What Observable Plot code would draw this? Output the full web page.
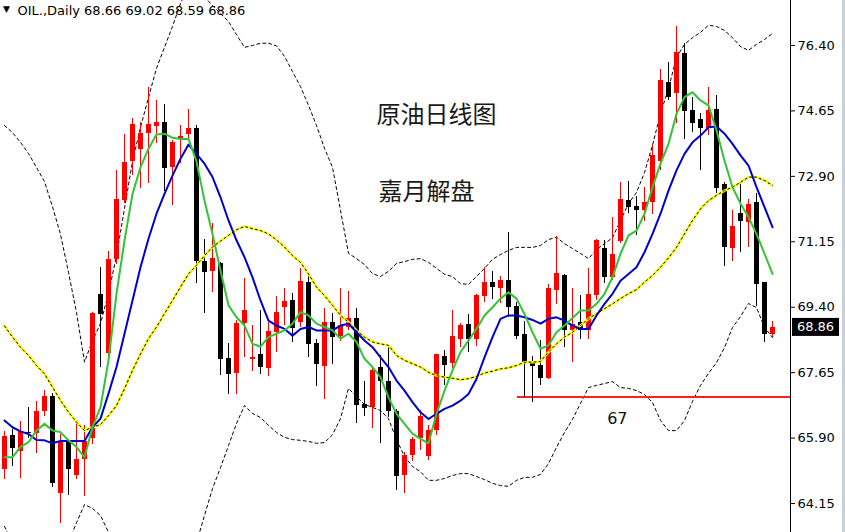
<!DOCTYPE html>
<html><head><meta charset="utf-8">
<script src="https://cdn.jsdelivr.net/npm/d3@7"></script>
<script src="https://cdn.jsdelivr.net/npm/@observablehq/plot@0.6"></script>
<style>
html,body{margin:0;padding:0;background:#fff;}
#chart{position:relative;width:845px;height:532px;overflow:hidden;}
</style></head><body><div id="chart"></div>
<script>
// ---- data ----
const opens = [65.07,65.97,65.55,66.05,66.01,66.62,67.01,64.43,65.81,64.91,
65.34,65.90,69.75,68.17,70.68,72.25,73.31,73.61,74.05,74.22,
74.35,73.15,73.88,74.02,74.18,70.61,70.36,70.56,68.02,67.62,
68.97,68.01,68.13,67.77,68.73,69.40,69.58,69.00,70.05,68.42,
67.82,68.98,68.62,68.87,69.09,66.80,66.73,67.78,67.42,66.62,
64.90,65.44,65.90,65.42,66.09,68.09,67.89,68.55,68.94,68.55,
69.69,70.05,69.89,70.12,69.42,68.67,67.91,67.84,67.50,69.85,
70.25,68.78,68.98,68.78,69.71,70.96,70.20,71.17,72.25,72.09,
72.00,72.19,73.31,75.40,75.11,76.19,74.66,74.42,74.17,74.69,
72.67,70.96,71.91,71.67,72.19,70.05,68.66];
const highs = [66.08,66.12,66.34,66.73,66.89,67.17,67.09,66.00,65.84,66.28,
66.24,69.25,70.45,70.90,73.06,74.02,74.44,74.35,75.27,74.93,
74.82,73.86,74.26,74.68,74.26,71.20,71.63,70.60,68.44,69.05,
70.16,68.91,69.31,68.99,69.69,69.89,69.76,70.43,70.22,68.53,
69.36,69.22,69.89,69.83,69.36,67.41,67.81,68.10,68.33,66.66,
65.52,65.92,66.64,66.24,68.14,68.24,69.31,68.96,69.20,69.74,
70.47,70.36,70.22,71.41,69.53,69.03,68.08,68.51,70.00,71.29,
70.28,69.91,69.71,70.43,71.21,71.19,71.79,72.74,72.76,72.37,
72.59,73.72,75.76,75.95,76.91,76.44,75.02,74.57,75.27,75.06,
72.74,72.00,72.74,72.28,72.45,70.05,69.02];
const lows = [64.80,65.14,64.83,65.88,65.50,66.48,64.59,63.61,64.37,64.79,
64.35,65.72,67.78,68.00,70.54,72.18,72.92,72.57,72.72,73.77,
72.50,72.12,73.24,73.88,70.03,69.23,69.80,67.57,67.06,67.06,
68.06,67.69,67.59,67.56,68.20,68.91,68.45,68.87,68.05,67.29,
66.92,67.86,68.47,68.78,66.30,66.48,66.15,65.75,66.46,64.50,
64.43,65.28,65.57,65.30,65.97,67.31,67.75,68.33,68.20,68.36,
69.53,69.61,69.51,69.13,68.55,66.98,66.84,67.31,67.46,69.47,
68.33,67.93,68.53,68.53,69.58,70.03,70.12,71.11,71.90,71.32,
71.70,71.88,73.06,74.93,74.31,73.88,74.08,73.06,73.99,72.43,
70.50,70.63,70.86,71.00,69.43,68.46,68.59];
const closes = [65.94,65.63,66.07,66.01,66.62,67.01,64.69,65.81,65.07,65.33,
65.82,69.23,69.20,70.68,72.28,73.28,74.29,74.04,74.29,74.35,
73.12,73.81,73.97,74.17,70.61,70.34,70.70,67.99,67.59,68.97,
69.30,68.06,67.80,68.75,69.26,69.55,68.82,70.09,68.40,67.86,
68.98,68.60,68.90,69.09,66.77,66.70,67.71,67.41,66.62,64.88,
65.44,65.86,66.49,66.09,68.14,67.84,68.62,68.91,68.53,69.71,
70.05,69.92,70.12,69.39,68.63,67.93,67.81,67.50,69.91,70.31,
68.78,68.93,68.78,69.74,71.19,70.19,70.81,72.28,72.08,72.00,
72.21,73.46,75.46,75.02,76.22,74.64,74.32,74.17,74.66,72.57,
70.99,71.56,71.70,72.15,70.01,68.66,68.86];
// fast MA (green)
const maGreen = [65.39,65.39,65.66,65.79,66.10,66.28,66.10,66.06,65.84,65.66,
65.39,66.19,66.73,67.98,69.76,71.18,72.43,73.14,73.64,74.02,
74.04,73.93,73.90,73.90,73.30,72.25,71.36,70.38,69.45,69.13,
68.91,68.42,68.35,68.60,68.69,68.78,68.96,69.27,69.18,68.96,
68.87,68.78,68.56,68.69,68.47,68.02,67.80,67.53,66.99,66.55,
66.28,66.02,65.88,65.76,66.55,67.17,67.71,68.20,68.51,68.82,
69.18,69.40,69.63,69.80,69.63,69.22,68.73,68.29,68.38,68.73,
68.91,69.11,69.31,69.31,69.49,69.76,70.20,70.83,71.32,71.45,
71.90,72.61,73.24,73.77,74.57,75.02,75.15,74.93,74.80,74.13,
73.32,72.61,72.17,71.81,71.36,70.83,70.29];
// medium MA (blue)
const maBlue = [66.37,66.19,66.08,66.01,65.85,65.84,65.76,65.82,65.82,65.82,
65.82,66.19,66.42,67.09,67.80,68.69,69.58,70.47,71.23,71.90,
72.43,72.92,73.37,73.75,73.50,73.24,72.88,72.34,71.72,71.19,
70.74,70.20,69.58,69.04,68.91,68.82,68.64,68.82,68.87,68.78,
68.78,68.78,68.91,68.96,68.73,68.51,68.33,68.06,67.80,67.44,
67.17,66.86,66.59,66.41,66.55,66.68,66.77,66.90,67.08,67.48,
68.06,68.60,69.09,69.18,69.18,69.13,69.06,68.96,69.09,69.13,
69.04,68.91,68.82,68.82,69.18,69.49,69.76,70.11,70.29,70.47,
70.87,71.36,71.90,72.52,73.06,73.50,73.81,73.99,74.21,74.23,
74.04,73.77,73.46,73.19,72.61,72.08,71.54];
// slow MA / Bollinger middle (yellow)
const maYellow = [68.90,68.60,68.33,68.11,67.84,67.62,67.26,66.91,66.59,66.33,
66.10,66.19,66.26,66.50,66.77,67.22,67.71,68.15,68.56,68.87,
69.23,69.58,69.94,70.29,70.52,70.78,71.01,71.17,71.32,71.47,
71.56,71.50,71.45,71.36,71.20,71.01,70.78,70.60,70.29,69.94,
69.71,69.45,69.18,69.00,68.78,68.60,68.47,68.42,68.38,68.11,
67.98,67.89,67.80,67.66,67.57,67.53,67.50,67.46,67.49,67.55,
67.64,67.69,67.75,67.78,67.84,67.93,67.93,67.95,68.20,68.42,
68.60,68.73,68.91,69.09,69.23,69.36,69.49,69.63,69.76,69.87,
70.07,70.25,70.47,70.72,71.00,71.36,71.72,72.03,72.25,72.39,
72.52,72.61,72.74,72.88,72.88,72.79,72.66];
const bbUpper = [74.26,74.07,73.81,73.51,73.14,72.76,72.09,71.35,70.33,69.26,
67.93,68.51,68.96,69.77,70.78,72.04,73.30,74.21,75.01,75.79,
76.35,76.91,77.52,78.00,78.10,77.70,77.47,77.26,77.04,76.69,
76.35,76.40,76.46,76.46,76.39,76.11,75.70,75.30,74.80,74.26,
73.65,73.14,71.99,70.84,70.70,70.54,70.30,70.22,70.36,70.57,
70.62,70.68,70.70,70.60,70.44,70.28,70.22,70.03,70.01,70.22,
70.44,70.68,70.81,70.92,71.00,71.00,71.00,71.05,71.21,71.27,
71.10,70.97,70.84,70.70,70.94,71.10,71.26,71.72,72.17,72.47,
73.00,73.73,74.58,75.25,76.08,76.43,76.61,76.75,76.94,76.91,
76.80,76.61,76.37,76.27,76.43,76.56,76.72];
const bbLower = [63.54,63.10,62.80,62.60,62.50,62.50,62.60,62.80,63.10,63.64,
64.12,64.02,63.83,63.38,63.00,62.60,62.20,61.90,61.70,61.60,
61.60,61.80,62.20,62.70,63.10,63.83,64.55,65.11,65.70,66.29,
66.77,66.56,66.45,66.24,66.05,65.92,65.86,65.84,65.81,65.76,
65.78,65.99,66.42,67.23,67.01,66.80,66.72,66.64,66.42,65.86,
65.41,65.14,65.00,64.77,64.77,64.82,64.90,64.95,64.95,64.87,
64.79,64.69,64.63,64.61,64.77,64.85,64.85,64.93,65.22,65.65,
66.05,66.40,66.83,67.25,67.31,67.36,67.41,67.25,67.23,67.17,
67.07,66.85,66.37,66.10,66.10,66.37,66.88,67.31,67.63,67.92,
68.32,68.86,69.15,69.50,69.39,68.86,68.59];
const yTicks = [64.15, 65.90, 67.65, 69.40, 71.15, 72.90, 74.65, 76.40];
const headerText = "OIL.,Daily 68.66 69.02 68.59 68.86";
const titleLines = ["原油日线图", "嘉月解盘"];
const supportLevel = 67;
const supportFromBar = 64.1;
const supportLabelBar = 76.6;
const lastPrice = 68.86;

// ---- build ----
const bars = opens.map((o, i) => ({i, o, h: highs[i], l: lows[i], c: closes[i], col: closes[i] >= o ? "#ff0000" : "#000000"}));
const series = arr => arr.map((v, i) => ({i, v}));
const X_MAX = 98.25;

const chart = Plot.plot({
  width: 845, height: 532,
  marginTop: 0, marginBottom: 0, marginLeft: 0, marginRight: 55,
  style: {fontFamily: "'DejaVu Sans', Verdana, sans-serif", fontSize: "13px", background: "#fff", color: "#000"},
  x: {domain: [-0.5, X_MAX], axis: null},
  y: {domain: [63.375, 77.603]},
  color: {type: "identity"},
  marks: [
    Plot.line(series(bbUpper), {x: "i", y: "v", stroke: "#000", strokeWidth: 1, strokeDasharray: "3,3", clip: true}),
    Plot.line(series(bbLower), {x: "i", y: "v", stroke: "#000", strokeWidth: 1, strokeDasharray: "3,3", clip: true}),
    Plot.ruleY([supportLevel], {x1: supportFromBar, x2: X_MAX, stroke: "#ff2020", strokeWidth: 2}),
    Plot.text([supportLevel], {x: supportLabelBar, y: d => d, dy: 22, text: d => String(d), fontSize: 16, fill: "#111"}),
    Plot.ruleX(bars, {x: "i", y1: "l", y2: "h", stroke: "col", strokeWidth: 1, shapeRendering: "crispEdges"}),
    Plot.rect(bars, {x1: d => d.i - 0.3125, x2: d => d.i + 0.3125, y1: "o", y2: "c", fill: "col", shapeRendering: "crispEdges"}),
    Plot.line(series(maYellow), {x: "i", y: "v", stroke: "#ffff00", strokeWidth: 2.5, clip: true}),
    Plot.line(series(maYellow), {x: "i", y: "v", stroke: "#000", strokeWidth: 1, strokeDasharray: "2,3", clip: true}),
    Plot.line(series(maBlue), {x: "i", y: "v", stroke: "#0000cc", strokeWidth: 2, clip: true}),
    Plot.line(series(maGreen), {x: "i", y: "v", stroke: "#33c333", strokeWidth: 2, clip: true}),
    Plot.ruleX([X_MAX], {stroke: "#000", strokeWidth: 1}),
    Plot.axisY(yTicks, {anchor: "right", tickSize: 4, tickPadding: 3, tickFormat: d => d.toFixed(2), fontSize: 13, label: null}),
    Plot.text(["▼"], {frameAnchor: "top-left", dx: 6, dy: 9, fontSize: 9, lineAnchor: "middle", textAnchor: "middle", fill: "#000"}),
    Plot.text([headerText], {frameAnchor: "top-left", dx: 17, dy: 10, lineAnchor: "middle", textAnchor: "start", fontSize: 13, fill: "#000"}),
    Plot.text([titleLines[0]], {frameAnchor: "top-left", dx: 376, dy: 115, lineAnchor: "middle", textAnchor: "start", fontSize: 24, fontFamily: "'Noto Sans CJK SC', sans-serif", fill: "#1a1a1a"}),
    Plot.text([titleLines[1]], {frameAnchor: "top-left", dx: 378, dy: 192, lineAnchor: "middle", textAnchor: "start", fontSize: 24, fontFamily: "'Noto Sans CJK SC', sans-serif", fill: "#1a1a1a"})
  ]
});

// last price tag on the right axis
const svg = d3.select(chart);
const yPos = chart.scale("y").apply(lastPrice);
const tag = svg.append("g");
tag.append("rect").attr("x", 792).attr("y", yPos - 9).attr("width", 47).attr("height", 18).attr("fill", "#000");
tag.append("text").attr("x", 815.5).attr("y", yPos).attr("dy", "0.35em").attr("text-anchor", "middle")
  .attr("fill", "#fff").attr("font-size", 13).text(lastPrice.toFixed(2));
svg.append("rect").attr("x", 842).attr("y", 0).attr("width", 3).attr("height", 532).attr("fill", "#c8d0da");

document.getElementById("chart").appendChild(chart);
</script></body></html>
